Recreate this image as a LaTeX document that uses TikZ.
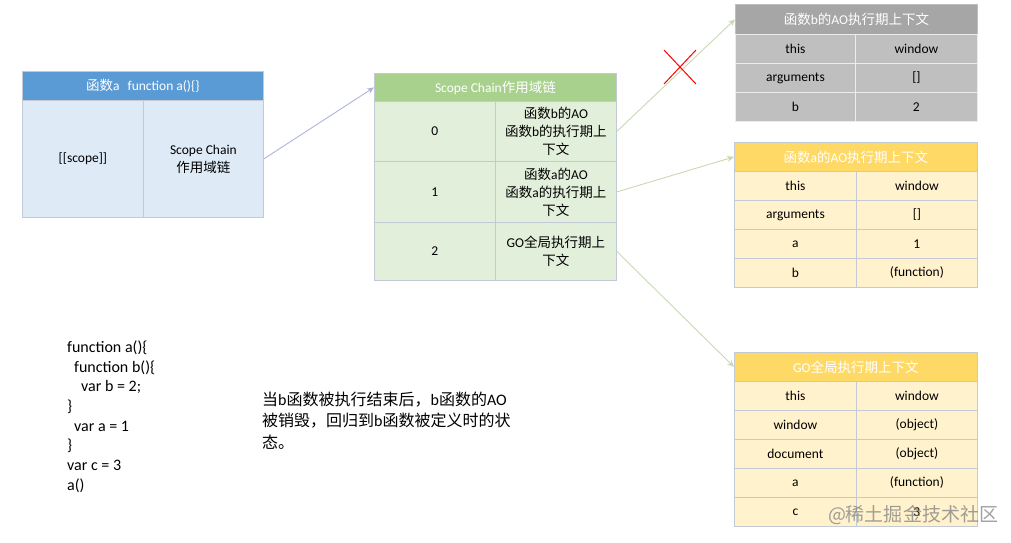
\documentclass[tikz,border=0pt]{standalone}
\usepackage{fontspec}
\setmainfont{Carlito}
\newfontfamily\cjk{Noto Sans CJK SC}
\newcommand\zhs[1]{{\cjk #1}}
\usetikzlibrary{arrows.meta,shapes.misc}
\definecolor{bluehd}{HTML}{5B9BD5}
\definecolor{bluebd}{HTML}{DEEAF6}
\definecolor{greenhd}{HTML}{A9D18E}
\definecolor{greenbd}{HTML}{E2EFDA}
\definecolor{grayhd}{HTML}{A6A6A6}
\definecolor{graybd}{HTML}{BFBFBF}
\definecolor{goldhd}{HTML}{FFD966}
\definecolor{goldbd}{HTML}{FFF2CC}
\definecolor{bordc}{HTML}{C3CAD6}
\definecolor{arrblue}{HTML}{AEB5D8}
\definecolor{arrgreen}{HTML}{C9D9AE}
\tikzset{
  cell/.style={draw=bordc, line width=0.8pt, anchor=north west, inner sep=0pt,
    align=center, font=\fontsize{13.5}{18}\selectfont},
  hdr/.style={cell, text=white},
  codeline/.style={anchor=base west, inner sep=0pt, font=\fontsize{16}{20}\selectfont},
  zhline/.style={anchor=base west, inner sep=0pt, font=\fontsize{16}{21}\selectfont},
  link/.style={line width=0.9pt, -{Stealth[length=7pt,width=6pt]}},
}
\begin{document}
\begin{tikzpicture}[x=1pt,y=-1pt]
\useasboundingbox (0,0) rectangle (1011,542);

% ---- function a box
\node[hdr, fill=bluehd, minimum width=241pt, minimum height=29pt] (fah) at (22,71) {\zhs{函数}a\hspace{8pt}function a()\{\}};
\node[cell, fill=bluebd, minimum width=121pt, minimum height=117pt] (fa1) at (22,100) {[[scope]]};
\node[cell, fill=bluebd, minimum width=120pt, minimum height=117pt] (fa2) at (143,100) {Scope Chain\\\zhs{作用域链}};

% ---- scope chain box
\node[hdr, fill=greenhd, minimum width=242pt, minimum height=28pt] (sch) at (374,73) {Scope Chain\zhs{作用域链}};
\node[cell, fill=greenbd, minimum width=121pt, minimum height=60pt] (s0l) at (374,101) {0};
\node[cell, fill=greenbd, minimum width=121pt, minimum height=60pt] (s0r) at (495,101) {\zhs{函数}b\zhs{的}AO\\\zhs{函数}b\zhs{的执行期上}\\\zhs{下文}};
\node[cell, fill=greenbd, minimum width=121pt, minimum height=61pt] (s1l) at (374,161) {1};
\node[cell, fill=greenbd, minimum width=121pt, minimum height=61pt] (s1r) at (495,161) {\zhs{函数}a\zhs{的}AO\\\zhs{函数}a\zhs{的执行期上}\\\zhs{下文}};
\node[cell, fill=greenbd, minimum width=121pt, minimum height=58pt] (s2l) at (374,222) {2};
\node[cell, fill=greenbd, minimum width=121pt, minimum height=58pt] (s2r) at (495,222) {GO\zhs{全局执行期上}\\\zhs{下文}};

% ---- b AO box (gray)
\node[hdr, fill=grayhd, draw=graybd, minimum width=242pt, minimum height=30pt] (bh) at (735,4) {\zhs{函数}b\zhs{的}AO\zhs{执行期上下文}};
\node[cell, fill=graybd, draw=white!85!gray, minimum width=120pt, minimum height=29pt] (b1l) at (735,34) {this};
\node[cell, fill=graybd, draw=white!85!gray, minimum width=122pt, minimum height=29pt] (b1r) at (855,34) {window};
\node[cell, fill=graybd, draw=white!85!gray, minimum width=120pt, minimum height=29pt] (b2l) at (735,63) {arguments};
\node[cell, fill=graybd, draw=white!85!gray, minimum width=122pt, minimum height=29pt] (b2r) at (855,63) {[]};
\node[cell, fill=graybd, draw=white!85!gray, minimum width=120pt, minimum height=29pt] (b3l) at (735,92) {b};
\node[cell, fill=graybd, draw=white!85!gray, minimum width=122pt, minimum height=29pt] (b3r) at (855,92) {2};

% ---- a AO box (gold)
\node[hdr, fill=goldhd, minimum width=243pt, minimum height=29pt] (ah) at (734,142) {\zhs{函数}a\zhs{的}AO\zhs{执行期上下文}};
\node[cell, fill=goldbd, minimum width=122pt, minimum height=29pt] (a1l) at (734,171) {this};
\node[cell, fill=goldbd, minimum width=121pt, minimum height=29pt] (a1r) at (856,171) {window};
\node[cell, fill=goldbd, minimum width=122pt, minimum height=29pt] (a2l) at (734,200) {arguments};
\node[cell, fill=goldbd, minimum width=121pt, minimum height=29pt] (a2r) at (856,200) {[]};
\node[cell, fill=goldbd, minimum width=122pt, minimum height=29pt] (a3l) at (734,229) {a};
\node[cell, fill=goldbd, minimum width=121pt, minimum height=29pt] (a3r) at (856,229) {1};
\node[cell, fill=goldbd, minimum width=122pt, minimum height=29pt] (a4l) at (734,258) {b};
\node[cell, fill=goldbd, minimum width=121pt, minimum height=29pt] (a4r) at (856,258) {(function)};

% ---- GO box (gold)
\node[hdr, fill=goldhd, minimum width=243pt, minimum height=29pt] (gh) at (734,352) {GO\zhs{全局执行期上下文}};
\node[cell, fill=goldbd, minimum width=122pt, minimum height=29pt] (g1l) at (734,381) {this};
\node[cell, fill=goldbd, minimum width=121pt, minimum height=29pt] (g1r) at (856,381) {window};
\node[cell, fill=goldbd, minimum width=122pt, minimum height=29pt] (g2l) at (734,410) {window};
\node[cell, fill=goldbd, minimum width=121pt, minimum height=29pt] (g2r) at (856,410) {(object)};
\node[cell, fill=goldbd, minimum width=122pt, minimum height=29pt] (g3l) at (734,439) {document};
\node[cell, fill=goldbd, minimum width=121pt, minimum height=29pt] (g3r) at (856,439) {(object)};
\node[cell, fill=goldbd, minimum width=122pt, minimum height=29pt] (g4l) at (734,468) {a};
\node[cell, fill=goldbd, minimum width=121pt, minimum height=29pt] (g4r) at (856,468) {(function)};
\node[cell, fill=goldbd, minimum width=122pt, minimum height=29pt] (g5l) at (734,497) {c};
\node[cell, fill=goldbd, minimum width=121pt, minimum height=29pt] (g5r) at (856,497) {3};

% ---- connectors
\draw[link, draw=arrblue] (fa2.east) -- (sch.west);
\draw[link, draw=arrgreen] (s0r.east) -- (bh.west);
\draw[link, draw=arrgreen] (s1r.east) -- (ah.west);
\draw[link, draw=arrgreen] (s2r.east) -- (gh.west);

% ---- red cross
\node[cross out, draw=red, line width=1pt, minimum width=31pt, minimum height=33pt, inner sep=0pt] (xmark) at (680,67) {};

% ---- code
\node[codeline] (c1) at (67,352) {function a()\{};
\node[codeline] (c2) at (74,372) {function b()\{};
\node[codeline] (c3) at (81,391.5) {var b = 2;};
\node[codeline] (c4) at (67,411) {\}};
\node[codeline] (c5) at (74,431) {var a = 1};
\node[codeline] (c6) at (67,450.5) {\}};
\node[codeline] (c7) at (67,470) {var c = 3};
\node[codeline] (c8) at (67,490) {a()};

% ---- note
\node[zhline] (n1) at (262,405) {\zhs{当}b\zhs{函数被执行结束后，}b\zhs{函数的}AO};
\node[zhline] (n2) at (262,426.5) {\zhs{被销毁，回归到}b\zhs{函数被定义时的状}};
\node[zhline] (n3) at (262,448) {\zhs{态。}};

% ---- watermark
\node[inner sep=0pt, text=black!50, opacity=0.75, font=\cjk\fontsize{19}{22}\selectfont] (wm) at (913,515) {@稀土掘金技术社区};
\end{tikzpicture}
\end{document}
